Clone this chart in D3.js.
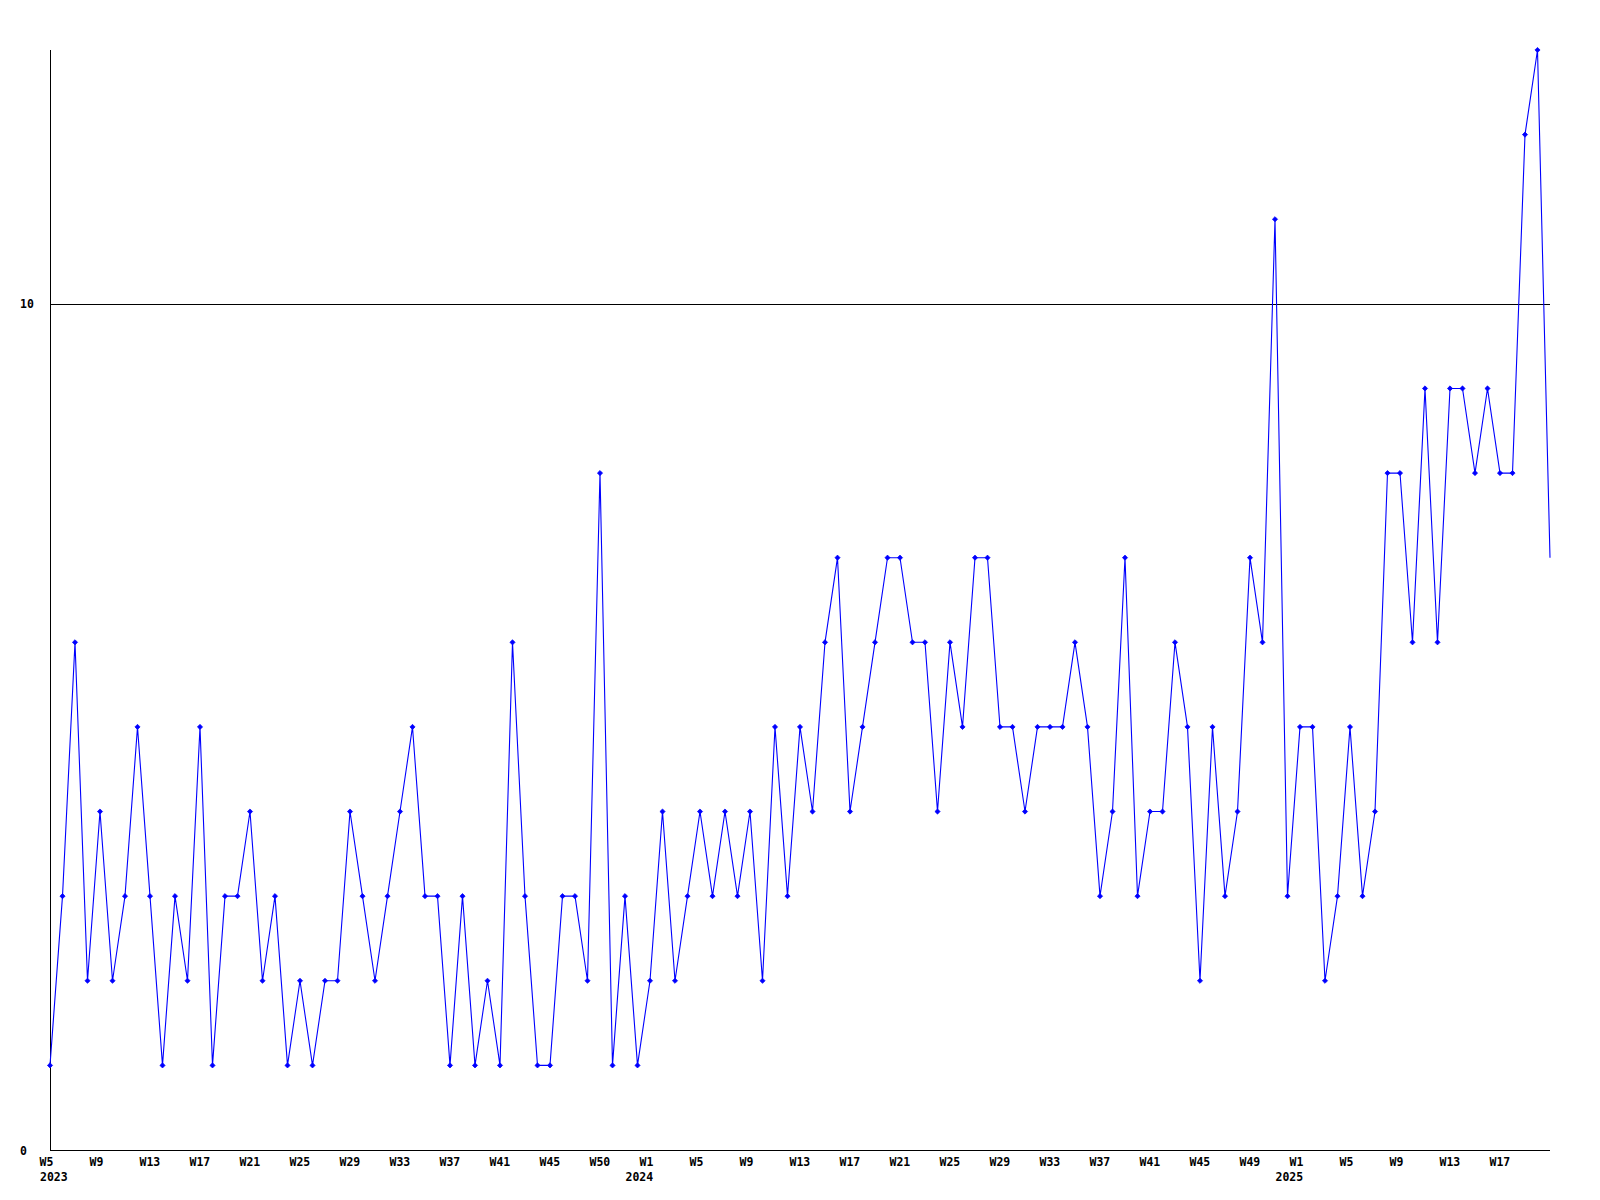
<!DOCTYPE html>
<html>
<head>
<meta charset="utf-8">
<script src="https://cdn.jsdelivr.net/npm/d3@7"></script>
<style>
  html, body { margin: 0; padding: 0; background: #fff; }
  svg { display: block; }
  text { font-family: "DejaVu Sans Mono", "Liberation Mono", monospace; font-weight: bold; font-size: 11.5px; fill: #000; }
</style>
</head>
<body>
<svg id="chart" width="1600" height="1200"></svg>
<script>
// ---- data ----
const values2023 = [1,3,6,2,4,2,3,5,3,1, 3,2,5,1,3,3,4,2,3,1, 2,1,2,2,4,3,2,3,4,5, 3,3,1,3,1,2,1,6,3,1, 1,3,3,2,8,1,3,1];
const values2024 = [2,4,2,3,4,3,4,3,4,2, 5,3,5,4,6,7,4,5,6,7, 7,6,6,4,6,5,7,7,5,5, 4,5,5,5,6,5,3,4,7,3, 4,4,6,5,2,5,3,4,7,6, 11,3];
const values2025 = [5,5,2,3,5,3,4,8,8,6, 9,6,9,9,8,9,8,8,12,13, 7];
const weekLabels = ["W5","W9","W13","W17","W21","W25","W29","W33","W37","W41","W45","W50",
                    "W1","W5","W9","W13","W17","W21","W25","W29","W33","W37","W41","W45","W49",
                    "W1","W5","W9","W13","W17"];
const weekLabelIndex = [0,4,8,12,16,20,24,28,32,36,40,44, 48,52,56,60,64,68,72,76,80,84,88,92,96, 100,104,108,112,116];
const yearLabels = ["2023","2024","2025"];
const yearLabelIndex = [0,48,100];
const yTicks = [0,10];
const gridValues = [10];

const values = values2023.concat(values2024, values2025);
const n = values.length;

// ---- layout ----
const svg = d3.select("#chart");
const x = d3.scaleLinear().domain([0, n - 1]).range([50, 1550]);
const y = d3.scaleLinear().domain([0, 13]).range([1150, 50]);

// gridline
svg.selectAll("line.grid").data(gridValues).enter().append("line")
  .attr("class","grid")
  .attr("x1", x(0)).attr("x2", x(n - 1))
  .attr("y1", d => Math.round(y(d)) + 0.5).attr("y2", d => Math.round(y(d)) + 0.5)
  .attr("stroke", "#000").attr("stroke-width", 1).attr("shape-rendering", "crispEdges");

// axes lines
svg.append("line")
  .attr("x1", x(0) + 0.5).attr("x2", x(0) + 0.5)
  .attr("y1", y(13)).attr("y2", y(0))
  .attr("stroke", "#000").attr("stroke-width", 1).attr("shape-rendering", "crispEdges");
svg.append("line")
  .attr("x1", x(0)).attr("x2", x(n - 1))
  .attr("y1", y(0) + 0.5).attr("y2", y(0) + 0.5)
  .attr("stroke", "#000").attr("stroke-width", 1).attr("shape-rendering", "crispEdges");

// y axis labels
const yAxis = d3.axisLeft(y).tickValues(yTicks).tickSize(0).tickFormat(d3.format("d"));
const gy = svg.append("g").attr("transform", `translate(${x(0)},0)`).call(yAxis);
gy.select(".domain").remove();
gy.selectAll("text")
  .attr("x", -30).attr("dy", "0.35em")
  .attr("text-anchor", "start")
  .style("font-family", '"DejaVu Sans Mono", monospace').style("font-weight", "bold").style("font-size", "11.5px");

// x axis week labels
const xAxis = d3.axisBottom(x).tickValues(weekLabelIndex).tickSize(0)
  .tickFormat((d, i) => weekLabels[i]);
const gx = svg.append("g").attr("transform", `translate(0,${y(0)})`).call(xAxis);
gx.select(".domain").remove();
gx.selectAll("text")
  .attr("x", -11).attr("y", 16).attr("dy", 0)
  .attr("text-anchor", "start")
  .style("font-family", '"DejaVu Sans Mono", monospace').style("font-weight", "bold").style("font-size", "11.5px");

// year labels
svg.selectAll("text.year").data(yearLabelIndex).enter().append("text")
  .attr("class","year")
  .attr("x", (d, i) => x(d) + (i === 0 ? -10 : -24.5))
  .attr("y", y(0) + 31)
  .text((d, i) => yearLabels[i]);

// line
const line = d3.line().x((d, i) => x(i)).y(d => y(d));
svg.append("path")
  .datum(values)
  .attr("d", line)
  .attr("fill", "none")
  .attr("stroke", "#0000ff")
  .attr("stroke-width", 1.1);

// markers (all but last point)
svg.selectAll("path.mk").data(values.slice(0, n - 1)).enter().append("path")
  .attr("class","mk")
  .attr("d", "M0,-2.6L2.6,0L0,2.6L-2.6,0Z")
  .attr("transform", (d, i) => `translate(${x(i)},${y(d)})`)
  .attr("fill", "#0000ff")
  .attr("stroke", "#0000ff")
  .attr("stroke-width", 0.7);
</script>
</body>
</html>
